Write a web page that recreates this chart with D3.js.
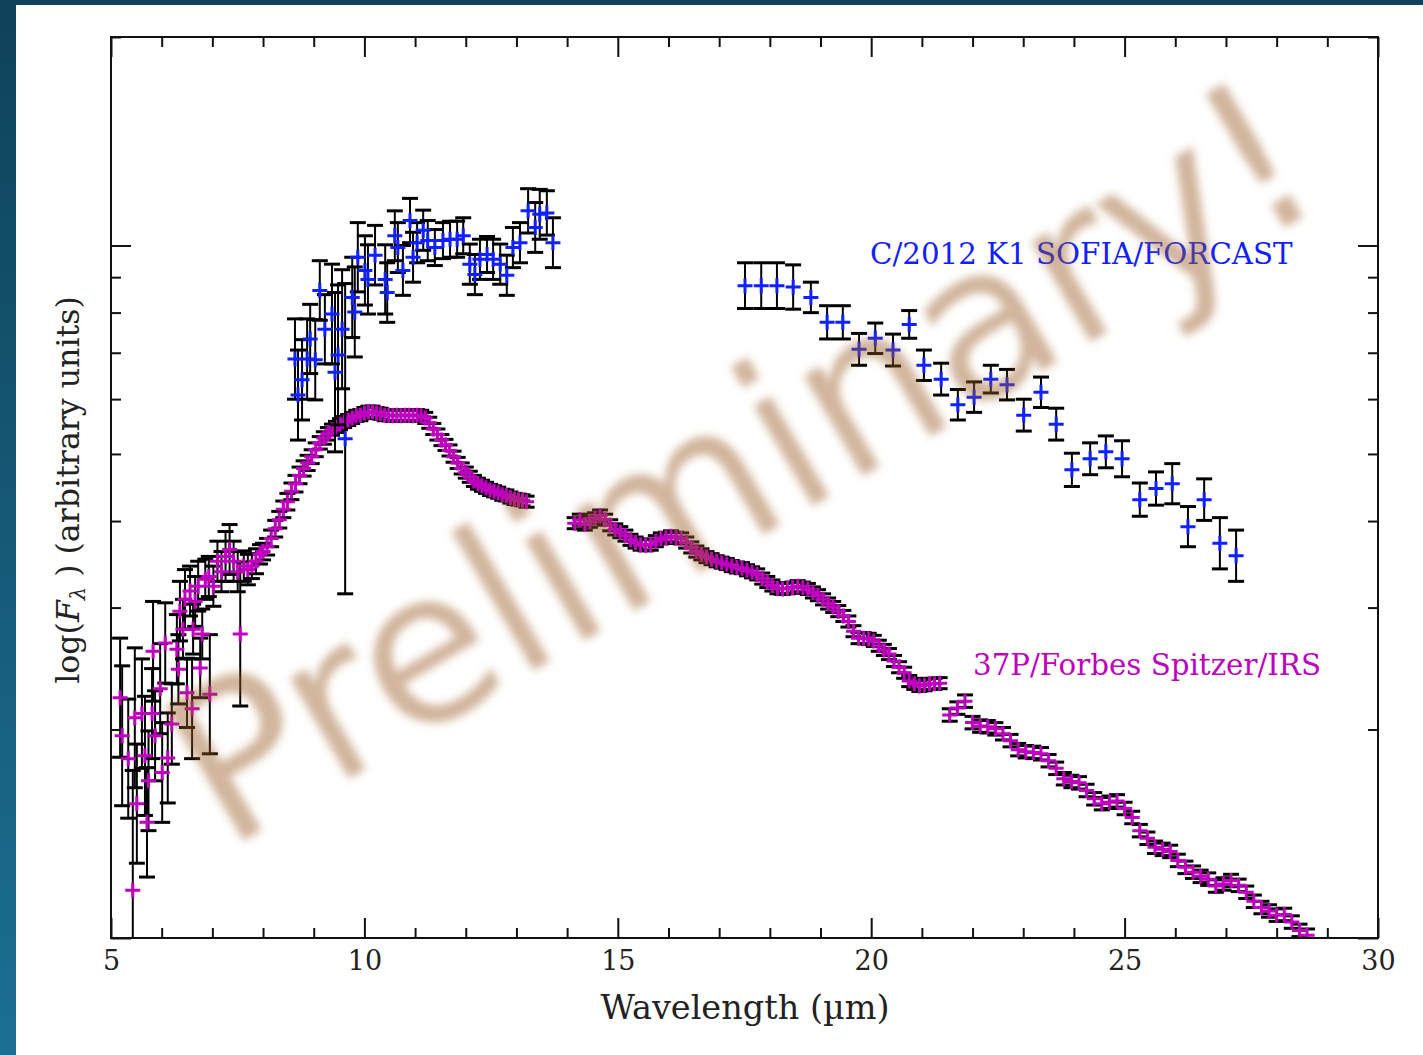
<!DOCTYPE html>
<html><head><meta charset="utf-8">
<script src="https://cdn.jsdelivr.net/npm/d3@7"></script>
<style>html,body{margin:0;padding:0;background:#fff;} svg{display:block}</style>
</head><body>
<svg id="chart" width="1423" height="1055"></svg>
<script>
// ---------------- DATA ----------------
// 37P/Forbes Spitzer/IRS : wavelength (µm), log10 flux (arbitrary), error (log units)
const magWl = [
5.18,5.22,5.34,5.43,5.47,5.51,5.61,5.67,5.71,5.74,5.81,5.83,5.87,5.97,6.01,6.07,6.12,6.20,6.30,6.33,
6.36,6.42,6.46,6.50,6.56,6.60,6.62,6.66,6.72,6.76,6.80,6.86,6.93,6.95,7.02,7.10,7.18,7.26,7.34,7.42,
7.50,7.55,7.62,7.70,7.78,7.86,7.94,8.00,8.08,8.16,8.24,8.32,8.40,8.48,8.56,8.64,8.72,8.80,8.88,8.96,
9.04,9.12,9.20,9.28,9.36,9.44,9.52,9.60,9.68,9.76,9.84,9.92,10.00,10.08,10.16,10.24,10.32,10.40,10.48,10.56,
10.64,10.72,10.80,10.88,10.96,11.04,11.12,11.20,11.28,11.36,11.44,11.52,11.60,11.68,11.76,11.84,11.92,12.00,12.08,12.16,
12.24,12.32,12.40,12.48,12.56,12.64,12.72,12.80,12.88,12.96,13.04,13.12,13.20,
14.15,14.25,14.35,14.45,14.55,14.65,14.75,14.85,14.95,15.05,15.15,15.25,15.35,15.45,15.55,15.65,15.75,15.85,15.95,16.05,
16.15,16.25,16.35,16.45,16.55,16.65,16.75,16.85,16.95,17.05,17.15,17.25,17.35,17.45,17.55,17.65,17.75,17.85,17.95,18.05,
18.15,18.25,18.35,18.45,18.55,18.65,18.75,18.85,18.95,19.05,19.15,19.25,19.35,19.45,19.55,19.65,19.75,19.85,19.95,20.05,
20.15,20.25,20.35,20.45,20.55,20.65,20.75,20.85,20.95,21.05,21.15,21.25,21.35,
21.55,21.70,21.85,22.00,22.15,22.30,22.45,22.60,22.75,22.90,23.05,23.20,23.35,23.50,23.65,23.80,23.95,24.10,24.25,24.40,
24.55,24.70,24.85,25.00,25.15,25.30,25.45,25.60,25.75,25.90,26.05,26.20,26.35,26.50,26.65,26.80,26.95,27.10,27.25,27.40,
27.55,27.70,27.85,28.00,28.15,28.30,28.45,28.60];
const magLogF = [
-0.653,-0.708,-0.741,-0.931,-0.682,-0.806,-0.676,-0.737,-0.833,-0.773,-0.676,-0.586,-0.708,-0.640,-0.761,-0.574,-0.740,-0.691,-0.583,-0.612,
-0.528,-0.554,-0.511,-0.646,-0.499,-0.669,-0.554,-0.514,-0.492,-0.610,-0.561,-0.482,-0.478,-0.648,-0.492,-0.456,-0.471,-0.449,-0.439,-0.456,
-0.471,-0.561,-0.463,-0.468,-0.463,-0.456,-0.446,-0.442,-0.435,-0.423,-0.409,-0.396,-0.381,-0.370,-0.355,-0.344,-0.332,-0.322,-0.314,-0.305,
-0.295,-0.285,-0.278,-0.272,-0.266,-0.262,-0.258,-0.255,-0.252,-0.249,-0.246,-0.245,-0.242,-0.240,-0.240,-0.242,-0.243,-0.245,-0.245,-0.246,
-0.245,-0.246,-0.245,-0.245,-0.246,-0.245,-0.246,-0.249,-0.256,-0.265,-0.273,-0.281,-0.288,-0.296,-0.305,-0.314,-0.322,-0.328,-0.334,-0.340,
-0.344,-0.347,-0.350,-0.353,-0.355,-0.357,-0.360,-0.361,-0.364,-0.366,-0.367,-0.368,-0.370,
-0.401,-0.396,-0.403,-0.399,-0.394,-0.390,-0.396,-0.404,-0.410,-0.414,-0.419,-0.425,-0.429,-0.432,-0.433,-0.432,-0.427,-0.423,-0.422,-0.420,
-0.422,-0.423,-0.429,-0.436,-0.442,-0.446,-0.450,-0.453,-0.456,-0.458,-0.460,-0.463,-0.465,-0.466,-0.469,-0.472,-0.475,-0.481,-0.486,-0.491,
-0.495,-0.496,-0.495,-0.494,-0.492,-0.494,-0.496,-0.501,-0.505,-0.511,-0.517,-0.522,-0.528,-0.535,-0.543,-0.557,-0.567,-0.567,-0.568,-0.571,
-0.578,-0.584,-0.590,-0.600,-0.609,-0.617,-0.629,-0.633,-0.636,-0.635,-0.633,-0.633,-0.632,
-0.678,-0.668,-0.658,-0.689,-0.694,-0.695,-0.698,-0.705,-0.715,-0.728,-0.731,-0.732,-0.734,-0.744,-0.755,-0.770,-0.774,-0.776,-0.787,-0.799,
-0.806,-0.804,-0.802,-0.813,-0.826,-0.845,-0.856,-0.869,-0.872,-0.875,-0.888,-0.898,-0.905,-0.911,-0.915,-0.925,-0.922,-0.917,-0.924,-0.934,
-0.947,-0.956,-0.961,-0.967,-0.966,-0.977,-0.989,-0.996];
const magErr = [
0.086,0.101,0.086,0.173,0.101,0.086,0.079,0.086,0.079,0.072,0.065,0.072,0.065,0.065,0.072,0.058,0.065,0.058,0.050,0.050,
0.043,0.043,0.043,0.050,0.036,0.072,0.036,0.036,0.036,0.043,0.036,0.029,0.029,0.086,0.029,0.029,0.029,0.036,0.036,0.029,
0.029,0.104,0.022,0.022,0.018,0.018,0.014,0.012,0.012,0.012,0.012,0.012,0.012,0.012,0.012,0.012,0.012,0.011,0.011,0.010,
0.010,0.009,0.009,0.009,0.008,0.008,0.008,0.008,0.008,0.008,0.008,0.008,0.008,0.008,0.008,0.008,0.008,0.008,0.008,0.008,
0.008,0.008,0.008,0.008,0.008,0.008,0.008,0.008,0.008,0.008,0.008,0.008,0.008,0.008,0.008,0.008,0.008,0.008,0.008,0.008,
0.008,0.008,0.008,0.008,0.008,0.008,0.008,0.008,0.008,0.008,0.008,0.008,0.008,
0.008,0.008,0.008,0.008,0.008,0.008,0.008,0.008,0.008,0.008,0.008,0.008,0.008,0.008,0.008,0.008,0.008,0.008,0.008,0.008,
0.008,0.008,0.008,0.008,0.008,0.008,0.008,0.008,0.008,0.008,0.008,0.008,0.008,0.008,0.008,0.008,0.008,0.008,0.008,0.008,
0.008,0.008,0.008,0.008,0.008,0.008,0.008,0.008,0.008,0.008,0.008,0.008,0.008,0.008,0.008,0.008,0.008,0.008,0.008,0.008,
0.008,0.008,0.008,0.008,0.008,0.008,0.008,0.008,0.008,0.008,0.008,0.008,0.008,
0.009,0.009,0.009,0.009,0.009,0.009,0.009,0.009,0.009,0.009,0.009,0.009,0.009,0.009,0.009,0.009,0.009,0.009,0.009,0.009,
0.009,0.009,0.009,0.009,0.009,0.009,0.009,0.009,0.009,0.009,0.009,0.009,0.009,0.009,0.009,0.009,0.009,0.009,0.009,0.009,
0.009,0.009,0.009,0.009,0.009,0.009,0.009,0.009];

// C/2012 K1 SOFIA/FORCAST : wavelength (µm), log10 flux (arbitrary), error (log units)
const blueWl = [
8.63,8.69,8.77,8.87,8.93,9.03,9.12,9.22,9.36,9.42,9.48,9.56,9.62,9.76,9.81,9.87,10.01,10.07,10.21,10.41,
10.45,10.60,10.66,10.76,10.90,10.96,11.04,11.16,11.25,11.39,11.55,11.69,11.83,11.95,12.08,12.18,12.28,12.42,12.54,12.68,
12.81,12.93,13.07,13.23,13.37,13.46,13.60,13.72,
17.51,17.83,18.14,18.46,18.81,19.13,19.44,19.76,20.08,20.43,20.75,21.04,21.38,21.71,22.03,22.36,22.68,23.01,23.35,23.65,
23.96,24.32,24.63,24.95,25.30,25.62,25.94,26.25,26.57,26.88,27.20];
const blueLogF = [
-0.164,-0.216,-0.194,-0.164,-0.135,-0.165,-0.065,-0.121,-0.099,-0.183,-0.158,-0.121,-0.279,-0.075,-0.096,-0.017,-0.036,-0.049,-0.014,-0.049,
-0.068,0.014,-0.003,-0.036,0.036,-0.017,0.004,0.022,0.007,-0.003,0.007,0.009,0.009,0.014,-0.027,-0.042,-0.020,-0.013,-0.020,-0.027,
-0.043,-0.003,0.004,0.050,0.026,0.045,0.047,0.004,
-0.058,-0.058,-0.058,-0.060,-0.075,-0.111,-0.111,-0.150,-0.134,-0.151,-0.114,-0.173,-0.193,-0.230,-0.219,-0.193,-0.201,-0.245,-0.212,-0.258,
-0.324,-0.308,-0.298,-0.308,-0.367,-0.351,-0.344,-0.406,-0.367,-0.430,-0.448];
const blueErr = [
0.058,0.065,0.058,0.058,0.050,0.058,0.043,0.050,0.072,0.115,0.101,0.086,0.224,0.058,0.065,0.050,0.050,0.050,0.043,0.050,
0.043,0.036,0.036,0.036,0.032,0.036,0.029,0.029,0.029,0.026,0.026,0.026,0.026,0.026,0.029,0.029,0.029,0.026,0.029,0.029,
0.029,0.029,0.029,0.032,0.036,0.036,0.032,0.036,
0.033,0.033,0.033,0.032,0.022,0.024,0.024,0.023,0.022,0.023,0.020,0.022,0.023,0.022,0.022,0.020,0.022,0.023,0.022,0.023,
0.024,0.023,0.023,0.026,0.024,0.024,0.029,0.029,0.030,0.037,0.037];

const xMajorTicks = [5, 10, 15, 20, 25, 30];
const xMinorTicks = [6,7,8,9,11,12,13,14,16,17,18,19,21,22,23,24,26,27,28,29];
const yMajorFlux = [0.1, 1];
const yMinorFlux = [0.2, 0.3, 0.4, 0.5, 0.6, 0.7, 0.8, 0.9, 2];
const seriesNames = ["C/2012 K1 SOFIA/FORCAST", "37P/Forbes Spitzer/IRS"];
const seriesColors = ["#1020ff", "#bf00bf"];
const xTitle = "Wavelength (\u00b5m)";
const watermarkText = "Preliminary!";

// ---------------- CHART ----------------
const W = 1423, H = 1055;
const P = {left: 111, right: 1378, top: 37, bottom: 938};
const svg = d3.select("#chart");
const defs = svg.append("defs");

const grad = defs.append("linearGradient").attr("id", "bg").attr("x1", 0).attr("y1", 0).attr("x2", 0).attr("y2", 1);
grad.append("stop").attr("offset", "0%").attr("stop-color", "#0f425a");
grad.append("stop").attr("offset", "100%").attr("stop-color", "#1c6f93");
defs.append("clipPath").attr("id", "clip").append("rect")
  .attr("x", P.left).attr("y", P.top).attr("width", P.right - P.left).attr("height", P.bottom - P.top);
const blur = defs.append("filter").attr("id", "blur").attr("x", "-10%").attr("y", "-10%").attr("width", "120%").attr("height", "120%");
blur.append("feGaussianBlur").attr("stdDeviation", 4.5);

svg.append("rect").attr("width", W).attr("height", H).attr("fill", "url(#bg)");
svg.append("rect").attr("x", 16).attr("y", 5).attr("width", W - 16).attr("height", H - 5).attr("fill", "#ffffff");

const x = d3.scaleLinear().domain([5, 30]).range([P.left, P.right]);
const y = d3.scaleLinear().domain([-1, Math.log10(2)]).range([P.bottom, P.top]);

function styleAxis(g) {
  g.select(".domain").remove();
  g.selectAll(".tick line").attr("stroke", "#111").attr("stroke-width", 2);
  g.selectAll(".tick text").attr("font-family", "DejaVu Serif").attr("font-size", 27).attr("fill", "#222");
}
// bottom
svg.append("g").attr("transform", `translate(0,${P.bottom})`)
  .call(d3.axisBottom(x).tickValues(xMinorTicks).tickSize(-10).tickFormat("")).call(styleAxis);
svg.append("g").attr("transform", `translate(0,${P.bottom})`)
  .call(d3.axisBottom(x).tickValues(xMajorTicks).tickSize(-20).tickPadding(13).tickFormat(d3.format("d"))).call(styleAxis);
// top
svg.append("g").attr("transform", `translate(0,${P.top})`)
  .call(d3.axisTop(x).tickValues(xMinorTicks).tickSize(-10).tickFormat("")).call(styleAxis);
svg.append("g").attr("transform", `translate(0,${P.top})`)
  .call(d3.axisTop(x).tickValues(xMajorTicks).tickSize(-20).tickFormat("")).call(styleAxis);
// left / right
const yMinor = yMinorFlux.map(Math.log10), yMajor = yMajorFlux.map(Math.log10);
svg.append("g").attr("transform", `translate(${P.left},0)`)
  .call(d3.axisLeft(y).tickValues(yMinor).tickSize(-10).tickFormat("")).call(styleAxis);
svg.append("g").attr("transform", `translate(${P.left},0)`)
  .call(d3.axisLeft(y).tickValues(yMajor).tickSize(-20).tickFormat("")).call(styleAxis);
svg.append("g").attr("transform", `translate(${P.right},0)`)
  .call(d3.axisRight(y).tickValues(yMinor).tickSize(-10).tickFormat("")).call(styleAxis);
svg.append("g").attr("transform", `translate(${P.right},0)`)
  .call(d3.axisRight(y).tickValues(yMajor).tickSize(-20).tickFormat("")).call(styleAxis);

// data
const gData = svg.append("g").attr("clip-path", "url(#clip)");
function drawErrors(wl, lf, er) {
  const pts = wl.map((w, i) => ({w, v: lf[i], e: er[i]}));
  const g = gData.append("g").attr("stroke", "#000");
  g.selectAll("line.v").data(pts).join("line").attr("class", "v")
    .attr("x1", d => x(d.w)).attr("x2", d => x(d.w))
    .attr("y1", d => y(d.v - d.e)).attr("y2", d => y(d.v + d.e)).attr("stroke-width", 2);
  ["lo", "hi"].forEach(k => {
    g.selectAll("line." + k).data(pts).join("line").attr("class", k)
      .attr("x1", d => x(d.w) - 8).attr("x2", d => x(d.w) + 8)
      .attr("y1", d => y(k === "lo" ? d.v - d.e : d.v + d.e))
      .attr("y2", d => y(k === "lo" ? d.v - d.e : d.v + d.e))
      .attr("stroke-width", 3);
  });
}
function drawMarkers(wl, lf, color) {
  const pts = wl.map((w, i) => ({w, v: lf[i]}));
  gData.append("g").selectAll("path").data(pts).join("path")
    .attr("d", "M-7.5,0H7.5M0,-7.5V7.5")
    .attr("transform", d => `translate(${x(d.w)},${y(d.v)})`)
    .attr("stroke", color).attr("stroke-width", 3).attr("fill", "none");
}
drawErrors(magWl, magLogF, magErr);
drawMarkers(magWl, magLogF, seriesColors[1]);
drawErrors(blueWl, blueLogF, blueErr);
drawMarkers(blueWl, blueLogF, seriesColors[0]);

// frame
svg.append("rect").attr("x", P.left).attr("y", P.top).attr("width", P.right - P.left).attr("height", P.bottom - P.top)
  .attr("fill", "none").attr("stroke", "#111").attr("stroke-width", 2);

// series labels
svg.append("text").attr("x", 870).attr("y", 264).attr("font-family", "DejaVu Serif").attr("font-size", 29.3)
  .attr("fill", seriesColors[0]).text(seriesNames[0]);
svg.append("text").attr("x", 973).attr("y", 675).attr("font-family", "DejaVu Serif").attr("font-size", 29.3)
  .attr("fill", seriesColors[1]).text(seriesNames[1]);

// axis titles
svg.append("text").attr("x", 745).attr("y", 1019).attr("text-anchor", "middle")
  .attr("font-family", "DejaVu Serif").attr("font-size", 33.5).attr("fill", "#222").text(xTitle);
const yt = svg.append("text").attr("transform", "translate(79,490) rotate(-90)").attr("text-anchor", "middle")
  .attr("font-family", "DejaVu Serif").attr("font-size", 31.6).attr("fill", "#222");
yt.append("tspan").text("log(");
yt.append("tspan").attr("font-style", "italic").text("F");
yt.append("tspan").attr("font-style", "italic").attr("font-size", 21).attr("dy", 6).text("\u03bb");
yt.append("tspan").attr("dy", -6).text(" ) (arbitrary units)");

// watermark
svg.append("text").attr("transform", "translate(778,526) rotate(-30.5)").attr("text-anchor", "middle")
  .attr("font-family", "DejaVu Sans").attr("font-size", 212).attr("fill", "#9a5a22").attr("fill-opacity", 0.45)
  .attr("filter", "url(#blur)").text(watermarkText);
</script>
</body></html>
